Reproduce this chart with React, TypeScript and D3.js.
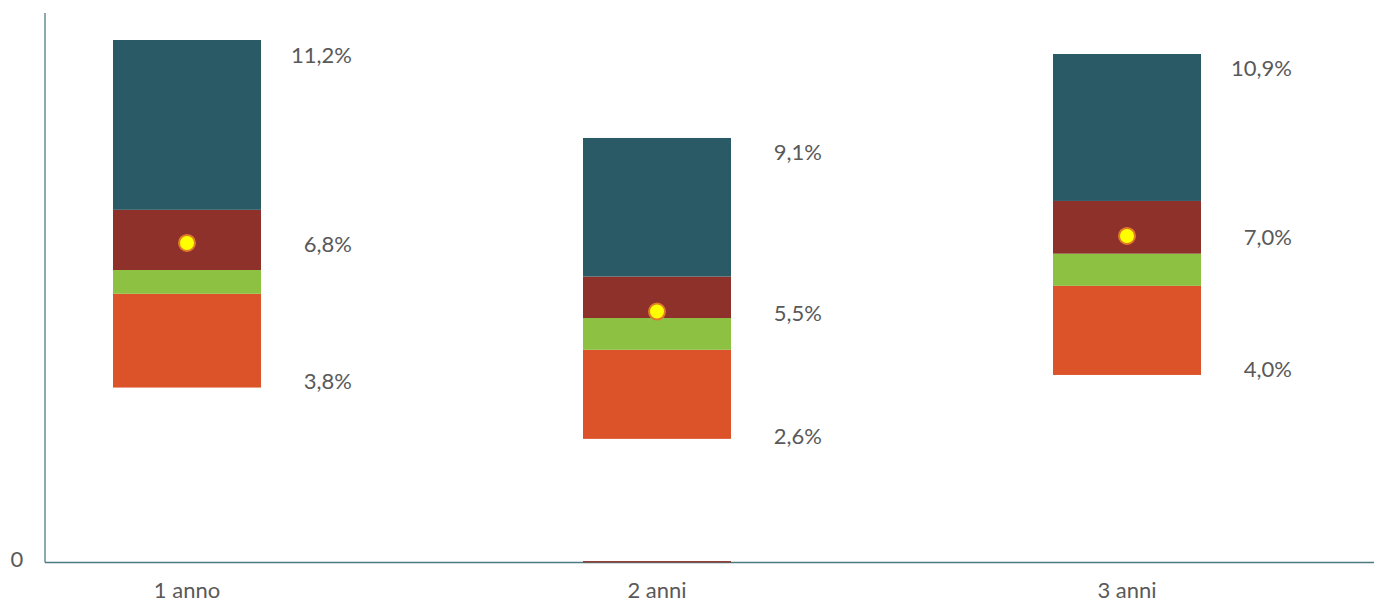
import React from "react";
import * as d3 from "d3";

const categories = ["1 anno", "2 anni", "3 anni"];
const lowValues = [3.75, 2.65, 4.02];
const orangeTop = [5.76, 4.56, 5.93];
const greenTop = [6.27, 5.24, 6.62];
const redTop = [7.56, 6.13, 7.75];
const highValues = [11.2, 9.1, 10.9];
const pointValues = [6.85, 5.38, 7.0];
const baseMarkValues = [0, 0.03, 0];
const highLabels = ["11,2%", "9,1%", "10,9%"];
const midLabels = ["6,8%", "5,5%", "7,0%"];
const lowLabels = ["3,8%", "2,6%", "4,0%"];
const lowLabelShift = [-7.5, -3, -6];

const W = 1374;
const H = 603;
const FONT = "'Gill Sans', 'Gill Sans MT', Lato, 'Open Sans', sans-serif";

export default function App() {
  const y = d3.scaleLinear().domain([0, 11.2]).range([562.5, 40]);
  const x = d3.scalePoint<string>().domain(categories).range([187, 1127]);
  const bw = 148;

  const segs = categories.map((c, i) => [
    { lo: lowValues[i], hi: orangeTop[i], color: "#dc532a" },
    { lo: orangeTop[i], hi: greenTop[i], color: "#8cc142" },
    { lo: greenTop[i], hi: redTop[i], color: "#8e312b" },
    { lo: redTop[i], hi: highValues[i], color: "#2a5a66" },
  ]);

  return (
    <svg width={W} height={H} style={{ position: "absolute", left: 0, top: 0 }}>
      <rect width={W} height={H} fill="#fff" />
      {categories.map((c, i) =>
        segs[i].map((s, k) => (
          <rect
            key={c + k}
            x={(x(c) as number) - bw / 2}
            y={y(s.hi)}
            width={bw}
            height={y(s.lo) - y(s.hi)}
            fill={s.color}
          />
        ))
      )}
      <line x1={45} x2={45} y1={13} y2={562.5} stroke="#4c7a82" strokeWidth={1.3} />
      <line x1={45} x2={1374} y1={562.5} y2={562.5} stroke="#4c7a82" strokeWidth={1.3} />
      {categories.map((c, i) =>
        baseMarkValues[i] > 0 ? (
          <rect
            key={"bm" + c}
            x={(x(c) as number) - bw / 2}
            y={y(baseMarkValues[i])}
            width={bw}
            height={y(0) - y(baseMarkValues[i])}
            fill="#8e312b"
          />
        ) : null
      )}
      {categories.map((c, i) => (
        <circle
          key={"p" + c}
          cx={x(c) as number}
          cy={y(pointValues[i])}
          r={8}
          fill="#ffff00"
          stroke="#e07b28"
          strokeWidth={2}
        />
      ))}
      <g fontFamily={FONT} fontSize={22} fill="#595959">
        {categories.map((c, i) => {
          const tx = (x(c) as number) + bw / 2 + 91;
          return (
            <g key={"l" + c}>
              <text x={tx} y={y(highValues[i]) + 14} textAnchor="end" dominantBaseline="central">
                {highLabels[i]}
              </text>
              <text x={tx} y={y(pointValues[i]) + 1} textAnchor="end" dominantBaseline="central">
                {midLabels[i]}
              </text>
              <text x={tx} y={y(lowValues[i]) + lowLabelShift[i]} textAnchor="end" dominantBaseline="central">
                {lowLabels[i]}
              </text>
            </g>
          );
        })}
        {categories.map((c) => (
          <text key={"x" + c} x={x(c) as number} y={589} textAnchor="middle" dominantBaseline="central">
            {c}
          </text>
        ))}
        <text x={17} y={558} textAnchor="middle" dominantBaseline="central">
          0
        </text>
      </g>
    </svg>
  );
}
